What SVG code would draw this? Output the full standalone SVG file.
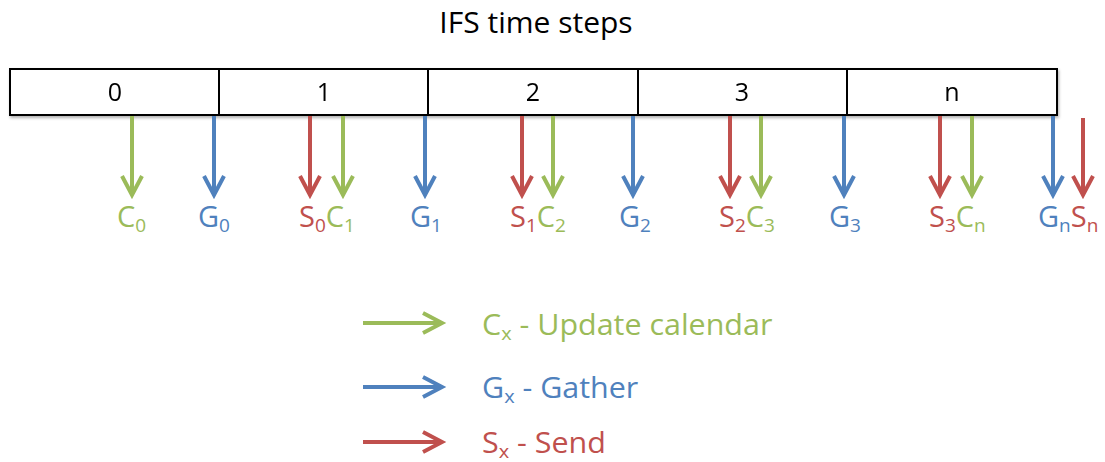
<svg xmlns="http://www.w3.org/2000/svg" width="1105" height="462" viewBox="0 0 1105 462">
<defs>
<style>
text{font-family:"Open Sans","Liberation Sans",sans-serif;}
.t{font-size:30px;fill:#000;}
.num{font-size:25px;fill:#000;text-anchor:middle;}
.lbl{font-size:29px;}
.sub{font-size:19px;}
.g{fill:#9BBB59;} .b{fill:#4F81BD;} .r{fill:#C0504D;}
.cell{fill:#fff;stroke:#000;stroke-width:2;}
.ag{stroke:#9BBB59;stroke-width:4;fill:none;}
.ab{stroke:#4F81BD;stroke-width:4;fill:none;}
.ar{stroke:#C0504D;stroke-width:4;fill:none;}
.leg{font-size:29px;}
</style>
<filter id="sh" x="-5%" y="-20%" width="110%" height="150%"><feDropShadow dx="1" dy="2" stdDeviation="1.5" flood-opacity="0.3"/></filter>
</defs>
<rect width="1105" height="462" fill="#fff"/>
<text class="t" x="536" y="33" text-anchor="middle">IFS time steps</text>
<g id="timeline" filter="url(#sh)">
<g id="cell0"><rect class="cell" x="10" y="69" width="209" height="46"/><text class="num" x="115" y="101">0</text></g>
<g id="cell1"><rect class="cell" x="219" y="69" width="209" height="46"/><text class="num" x="324" y="101">1</text></g>
<g id="cell2"><rect class="cell" x="428" y="69" width="210" height="46"/><text class="num" x="533" y="101">2</text></g>
<g id="cell3"><rect class="cell" x="638" y="69" width="209" height="46"/><text class="num" x="742" y="101">3</text></g>
<g id="celln"><rect class="cell" x="847" y="69" width="210" height="46"/><text class="num" x="952" y="101">n</text></g>
</g>
<g id="connectors">
<g class="ag"><path d="M132 116V194M122 176L132 195L142 176"/></g>
<g class="ab"><path d="M214 116V194M204 176L214 195L224 176"/></g>
<g class="ar"><path d="M310 116V194M300 176L310 195L320 176"/></g>
<g class="ag"><path d="M343 116V194M333 176L343 195L353 176"/></g>
<g class="ab"><path d="M425 116V194M415 176L425 195L435 176"/></g>
<g class="ar"><path d="M522 116V194M512 176L522 195L532 176"/></g>
<g class="ag"><path d="M553 116V194M543 176L553 195L563 176"/></g>
<g class="ab"><path d="M633 116V194M623 176L633 195L643 176"/></g>
<g class="ar"><path d="M730 116V194M720 176L730 195L740 176"/></g>
<g class="ag"><path d="M761 116V194M751 176L761 195L771 176"/></g>
<g class="ab"><path d="M844 116V194M834 176L844 195L854 176"/></g>
<g class="ar"><path d="M940 116V194M930 176L940 195L950 176"/></g>
<g class="ag"><path d="M972 116V194M962 176L972 195L982 176"/></g>
<g class="ab"><path d="M1053 116V194M1043 176L1053 195L1063 176"/></g>
<g class="ar"><path d="M1083 118V194M1073 176L1083 195L1093 176"/></g>
</g>
<g id="labels">
<text class="lbl" x="117" y="227"><tspan class="g">C</tspan><tspan class="g sub" dy="5">0</tspan></text>
<text class="lbl" x="198" y="227"><tspan class="b">G</tspan><tspan class="b sub" dy="5">0</tspan></text>
<text class="lbl" x="299" y="227"><tspan class="r">S</tspan><tspan class="r sub" dy="5">0</tspan><tspan class="g" dy="-5">C</tspan><tspan class="g sub" dy="5">1</tspan></text>
<text class="lbl" x="410" y="227"><tspan class="b">G</tspan><tspan class="b sub" dy="5">1</tspan></text>
<text class="lbl" x="510" y="227"><tspan class="r">S</tspan><tspan class="r sub" dy="5">1</tspan><tspan class="g" dy="-5">C</tspan><tspan class="g sub" dy="5">2</tspan></text>
<text class="lbl" x="619" y="227"><tspan class="b">G</tspan><tspan class="b sub" dy="5">2</tspan></text>
<text class="lbl" x="719" y="227"><tspan class="r">S</tspan><tspan class="r sub" dy="5">2</tspan><tspan class="g" dy="-5">C</tspan><tspan class="g sub" dy="5">3</tspan></text>
<text class="lbl" x="829" y="227"><tspan class="b">G</tspan><tspan class="b sub" dy="5">3</tspan></text>
<text class="lbl" x="929" y="227"><tspan class="r">S</tspan><tspan class="r sub" dy="5">3</tspan><tspan class="g" dy="-5">C</tspan><tspan class="g sub" dy="5">n</tspan></text>
<text class="lbl" x="1038" y="227"><tspan class="b">G</tspan><tspan class="b sub" dy="5">n</tspan><tspan class="r" dy="-5">S</tspan><tspan class="r sub" dy="5">n</tspan></text>
</g>
<g id="legend">
<g id="leg-c"><path class="ag" d="M363 323H441M423 313L442 323L423 333"/><text class="leg g" transform="translate(482 335) scale(1.05 1)">C<tspan class="sub" dy="5">x</tspan><tspan dy="-5"> - Update calendar</tspan></text></g>
<g id="leg-g"><path class="ab" d="M363 387H441M423 377L442 387L423 397"/><text class="leg b" transform="translate(482 398) scale(1.05 1)">G<tspan class="sub" dy="5">x</tspan><tspan dy="-5"> - Gather</tspan></text></g>
<g id="leg-s"><path class="ar" d="M363 442H441M423 432L442 442L423 452"/><text class="leg r" transform="translate(482 453) scale(1.05 1)">S<tspan class="sub" dy="5">x</tspan><tspan dy="-5"> - Send</tspan></text></g>
</g>
</svg>
